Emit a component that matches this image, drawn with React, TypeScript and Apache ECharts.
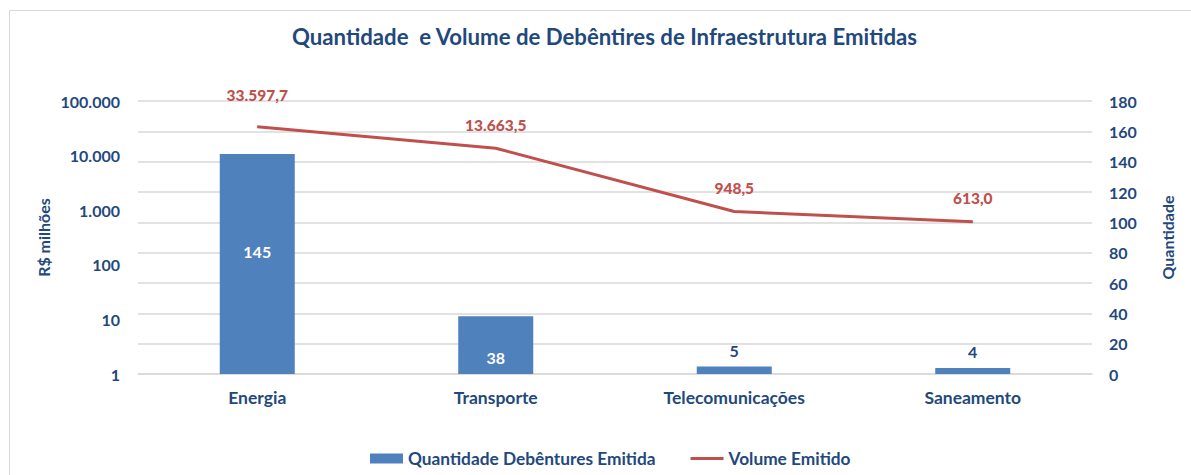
import React, { useEffect, useRef } from "react";
import * as echarts from "echarts";

const categories = ["Energia", "Transporte", "Telecomunicações", "Saneamento"];
const quantidade = [145, 38, 5, 4];
const volume = [33597.7, 13663.5, 948.5, 613.0];
const rightTicks = { min: 0, max: 180, interval: 20 };

const DARK = "#1F497D";
const BLUE = "#4F81BD";
const RED = "#C0504D";
const FONT = "Lato";

function fmtBR(v: number, dec: number) {
  const fixed = v.toFixed(dec);
  const [int, frac] = fixed.split(".");
  const intF = int.replace(/\B(?=(\d{3})+(?!\d))/g, ".");
  return frac !== undefined ? intF + "," + frac : intF;
}

export default function App() {
  const ref = useRef<HTMLDivElement>(null);
  useEffect(() => {
    document.body.style.margin = "0";
    const chart = echarts.init(ref.current!, undefined, { renderer: "svg" });
    const barData = quantidade.map((v, i) => {
      const inside = i < 2;
      return {
        value: v,
        label: inside
          ? { position: "inside", color: "#FFFFFF", offset: [0, i === 0 ? -13 : 12] }
          : { position: "top", color: DARK, distance: 8 },
      };
    });
    const lineData = volume.map((v, i) => ({
      value: v,
      label: { distance: i === 0 ? 23 : 15 },
    }));
    chart.setOption({
      animation: false,
      textStyle: { fontFamily: FONT },
      title: {
        text: "Quantidade  e Volume de Debêntires de Infraestrutura Emitidas",
        left: 287,
        top: 20,
        textStyle: { color: DARK, fontSize: 22.2, fontWeight: "bold", fontFamily: FONT },
      },
      graphic: [
        {
          type: "rect",
          shape: { x: 9.5, y: 10.5, width: 1300, height: 600 },
          style: { fill: "none", stroke: "#D9D9D9", lineWidth: 1 },
          silent: true,
        },
      ],
      legend: {
        left: 365,
        top: 445,
        itemWidth: 33,
        itemHeight: 10,
        itemGap: 35,
        textStyle: { color: DARK, fontSize: 17.3, fontWeight: "bold", fontFamily: FONT },
        data: [
          { name: "Quantidade Debêntures Emitida", icon: "rect" },
          {
            name: "Volume Emitido",
            icon: "path://M0,0 L0,0 M0,3.5 L33,3.5 L33,6.5 L0,6.5 Z M33,10 L33,10",
          },
        ],
      },
      grid: { left: 138, right: 99, top: 101, bottom: 101 },
      xAxis: {
        type: "category",
        data: categories,
        axisLine: { show: true, lineStyle: { color: "#D9D9D9", width: 1.5 } },
        axisTick: { show: false },
        axisLabel: { color: DARK, fontSize: 17.5, fontWeight: "bold", margin: 14, fontFamily: FONT },
      },
      yAxis: [
        {
          type: "log",
          logBase: 10,
          min: 1,
          max: 100000,
          position: "left",
          name: "R$ milhões",
          nameLocation: "middle",
          nameGap: 87,
          nameMoveOverlap: false,
          nameTextStyle: { color: DARK, fontSize: 16, fontWeight: "bold", fontFamily: FONT },
          axisLine: { show: false },
          axisTick: { show: false },
          splitLine: { show: false },
          axisLabel: {
            color: DARK,
            fontSize: 16,
            fontWeight: "bold",
            margin: 18,
            fontFamily: FONT,
            formatter: (v: number) => fmtBR(v, 0),
          },
        },
        {
          type: "value",
          position: "right",
          min: rightTicks.min,
          max: rightTicks.max,
          interval: rightTicks.interval,
          name: "Quantidade",
          nameLocation: "middle",
          nameGap: 67,
          nameMoveOverlap: false,
          nameTextStyle: { color: DARK, fontSize: 16, fontWeight: "bold", fontFamily: FONT },
          axisLine: { show: false },
          axisTick: { show: false },
          splitLine: { show: true, lineStyle: { color: "#D9D9D9", width: 1.5 } },
          axisLabel: { color: DARK, fontSize: 16, fontWeight: "bold", margin: 17, fontFamily: FONT },
        },
      ],
      series: [
        {
          name: "Quantidade Debêntures Emitida",
          type: "bar",
          yAxisIndex: 1,
          barWidth: 75,
          itemStyle: { color: BLUE },
          label: { show: true, fontSize: 16, fontWeight: "bold", fontFamily: FONT },
          data: barData,
        },
        {
          name: "Volume Emitido",
          type: "line",
          yAxisIndex: 0,
          symbol: "circle",
          symbolSize: 1,
          lineStyle: { color: RED, width: 3 },
          itemStyle: { color: RED },
          label: {
            show: true,
            position: "top",
            color: RED,
            fontSize: 15.5,
            fontWeight: 900,
            fontFamily: FONT,
            formatter: (p: any) => fmtBR(p.value, 1),
          },
          data: lineData,
        },
      ],
    });
    return () => chart.dispose();
  }, []);
  return <div ref={ref} style={{ width: 1191, height: 475 }} />;
}
